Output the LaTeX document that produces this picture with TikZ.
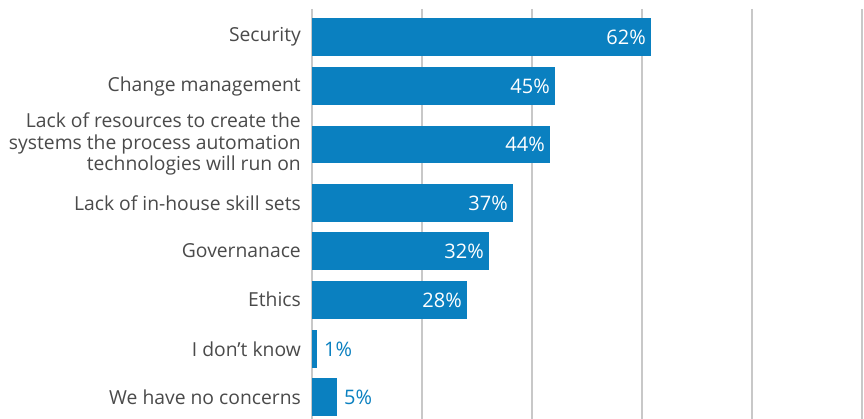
\documentclass[tikz,border=0pt]{standalone}
\usepackage{fontspec}
\setmainfont{Open Sans}
\definecolor{barblue}{HTML}{0A80C0}
\definecolor{gridgray}{HTML}{C8C8C8}
\definecolor{labgray}{HTML}{4A4A4A}
\begin{document}
\begin{tikzpicture}[x=1pt,y=-1pt,
  grid/.style={draw=gridgray,line width=1.6pt},
  bar/.style={fill=barblue,draw=none},
  cat/.style={anchor=east,align=right,text=labgray,font=\fontsize{19.3}{21.5}\selectfont,inner sep=0pt},
  valin/.style={anchor=east,text=white,font=\fontsize{20}{21}\selectfont,inner sep=0pt},
  valout/.style={anchor=west,text=barblue,font=\fontsize{20}{21}\selectfont,inner sep=0pt}]
\useasboundingbox (0,0) rectangle (864,419);
\fill[white] (0,0) rectangle (864,419);
\foreach \gx in {312,422,532,642,752,862} \draw[grid] (\gx,9) -- (\gx,419);
% bars: name, y top, y bottom, x end
\foreach \nm/\yt/\yb/\xe/\lab in {b1/18/56/651/62\%, b2/67/105/555/45\%, b3/126/163/550/44\%, b4/184/222/513/37\%, b5/232/270/489/32\%, b6/281/319/467/28\%}{
  \fill[bar] (312,\yt) rectangle (\xe,\yb);
  \node[valin] (\nm) at (\xe-5,{(\yt+\yb)/2}) {\lab};
}
\fill[bar] (312,330) rectangle (317,368);
\node[valout] (b7) at (324,349) {1\%};
\fill[bar] (312,378) rectangle (337,416);
\node[valout] (b8) at (344,397) {5\%};
\node[cat] (c1) at (301,37) {Security};
\node[cat] (c2) at (301,86) {Change management};
\node[cat] (c3) at (301,144) {Lack of resources to create the\\systems the process automation\\technologies will run on};
\node[cat] (c4) at (301,203) {Lack of in-house skill sets};
\node[cat] (c5) at (301,251) {Governanace};
\node[cat] (c6) at (301,299) {Ethics};
\node[cat] (c7) at (301,349) {I don’t know};
\node[cat] (c8) at (301,397) {We have no concerns};
\end{tikzpicture}
\end{document}
